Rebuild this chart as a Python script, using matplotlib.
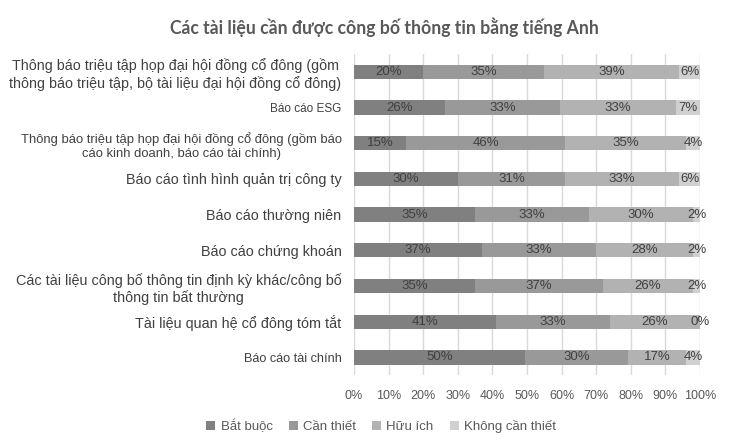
import matplotlib.pyplot as plt
import numpy as np

categories = [
    'Thông báo triệu tập họp đại hội đồng cổ đông (gồm\nthông báo triệu tập, bộ tài liệu đại hội đồng cổ đông)',
    'Báo cáo ESG',
    'Thông báo triệu tập họp đại hội đồng cổ đông (gồm báo\ncáo kinh doanh, báo cáo tài chính)',
    'Báo cáo tình hình quản trị công ty',
    'Báo cáo thường niên',
    'Báo cáo chứng khoán',
    'Các tài liệu công bố thông tin định kỳ khác/công bố\nthông tin bất thường',
    'Tài liệu quan hệ cổ đông tóm tắt',
    'Báo cáo tài chính',
]
label_sizes = [10.3, 8.5, 9.4, 10.4, 10.4, 10.4, 10.4, 10.4, 9.1]

bat_buoc = [20, 26, 15, 30, 35, 37, 35, 41, 50]
can_thiet = [35, 33, 46, 31, 33, 33, 37, 33, 30]
huu_ich = [39, 33, 35, 33, 30, 28, 26, 26, 17]
khong_can = [6, 7, 4, 6, 2, 2, 2, 0, 4]

series_names = ['Bắt buộc', 'Cần thiết', 'Hữu ích', 'Không cần thiết']
colors = ['#808080', '#999999', '#b2b2b2', '#d0d0d0']

sans = ['Liberation Sans', 'DejaVu Sans']

data = np.array([bat_buoc, can_thiet, huu_ich, khong_can], dtype=float)
shares = data / data.sum(axis=0) * 100

fig = plt.figure(figsize=(7.33, 4.43), dpi=100)
ax = fig.add_axes([0.483, 0.153, 0.472, 0.725])

y = np.arange(len(categories))
left = np.zeros(len(categories))
for i, name in enumerate(series_names):
    ax.barh(y, shares[i], left=left, height=0.4, color=colors[i], label=name, zorder=2)
    for j in range(len(categories)):
        xc = left[j] + shares[i][j] / 2
        if data[i][j] == 0:
            xc = 100
        ax.text(xc, y[j], f'{int(data[i][j])}%', ha='center', va='center',
                fontsize=9.5, color='#404040', family=sans, zorder=3)
    left += shares[i]

ax.set_xlim(0, 100)
ax.set_ylim(len(categories) - 0.5, -0.5)
ax.set_xticks(np.arange(0, 101, 10))
ax.set_xticklabels([f'{v}%' for v in range(0, 101, 10)], family=sans,
                   fontsize=9, color='#595959')
ax.set_yticks(y)
ax.set_yticklabels(categories, multialignment='center', family=sans, color='#404040')
for lbl, s in zip(ax.get_yticklabels(), label_sizes):
    lbl.set_fontsize(s)
ax.tick_params(length=0)
ax.tick_params(axis='y', pad=9)
ax.tick_params(axis='x', pad=11)
ax.grid(axis='x', color='#d9d9d9', linewidth=1, zorder=0)
for sp in ax.spines.values():
    sp.set_visible(False)

fig.suptitle('Các tài liệu cần được công bố thông tin bằng tiếng Anh', x=0.525, y=0.96,
             fontsize=12.7, fontweight='bold', color='#595959', family=['Lato', 'DejaVu Sans'])

fig.legend(loc='lower center', bbox_to_anchor=(0.52, -0.005), ncol=4, frameon=False,
           prop={'family': sans, 'size': 9.5}, labelcolor='#595959',
           handlelength=0.7, handleheight=0.7, handletextpad=0.4, columnspacing=1.2)

fig.savefig('out.png', dpi=100)
